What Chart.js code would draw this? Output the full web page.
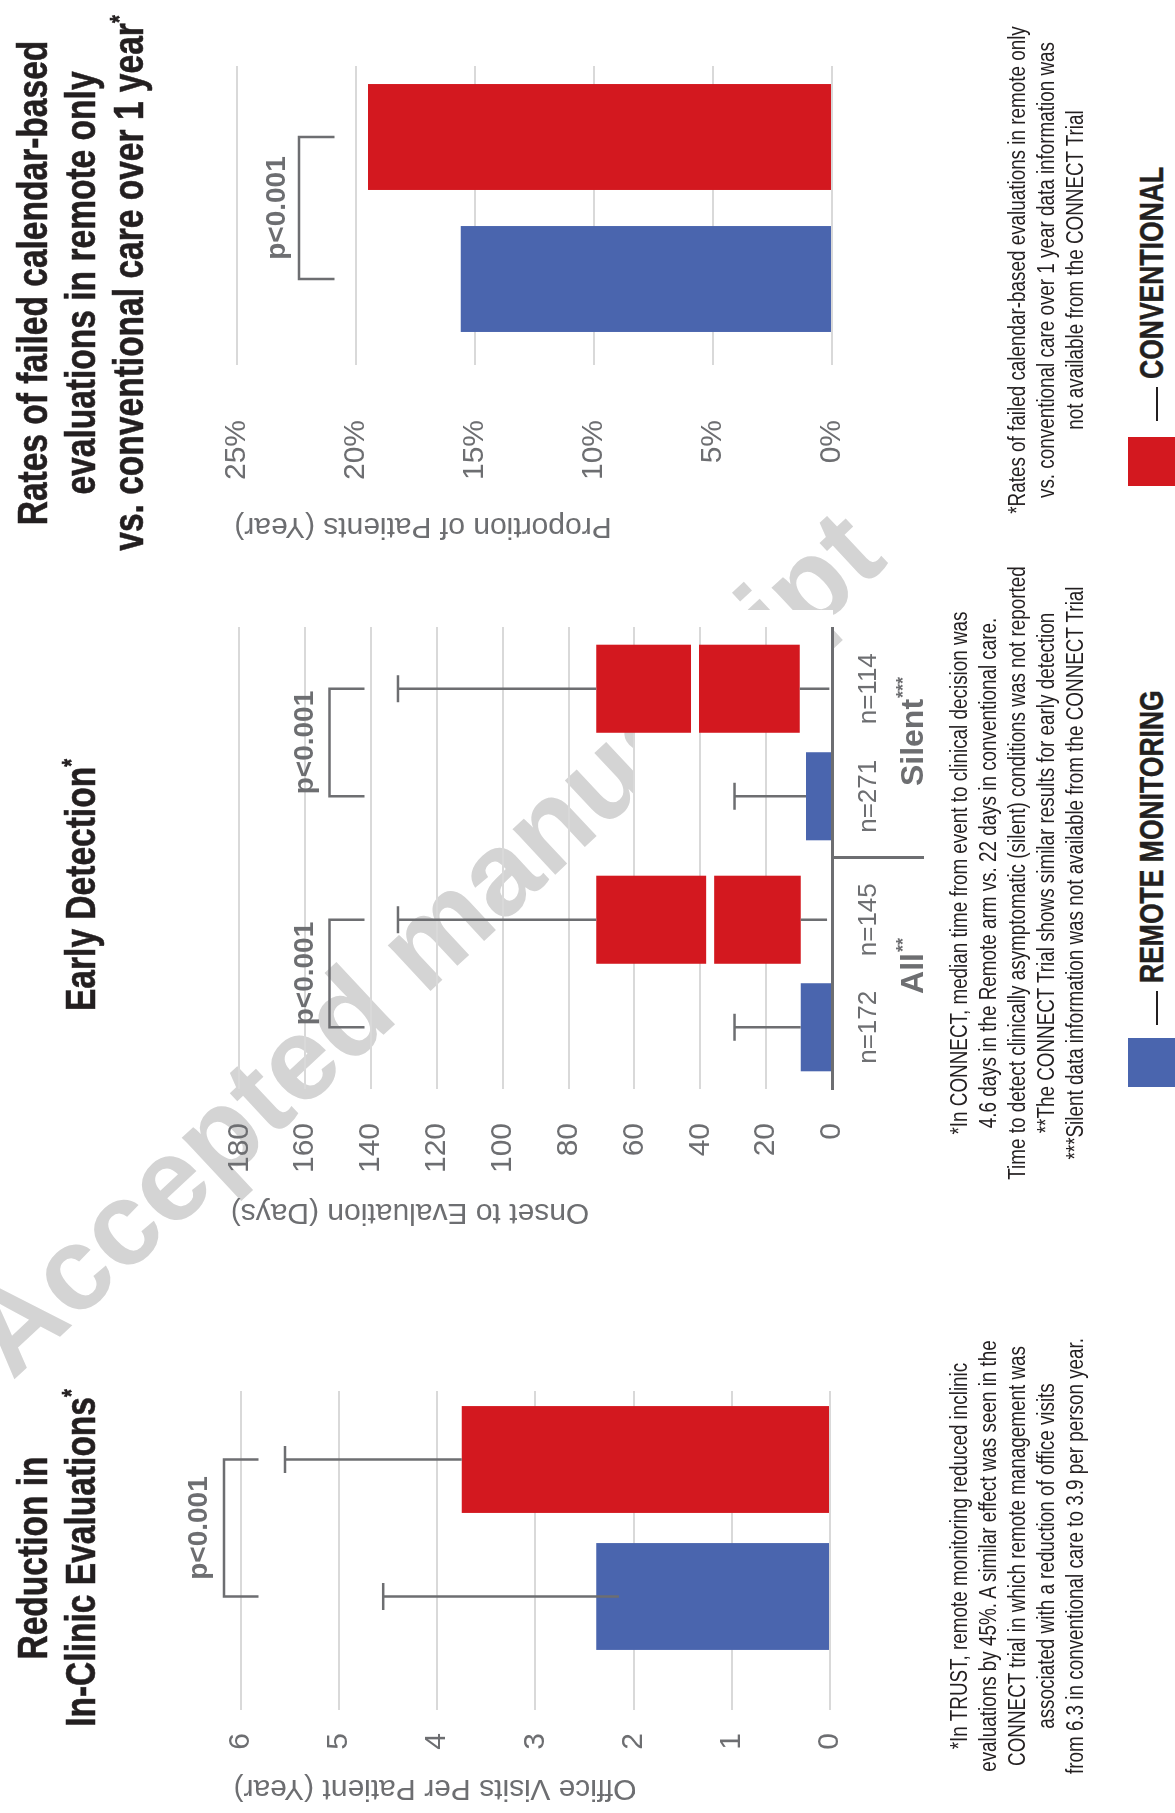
<!DOCTYPE html>
<html>
<head>
<meta charset="utf-8">
<script src="https://cdn.jsdelivr.net/npm/chart.js@4.4.1/dist/chart.umd.min.js"></script>
<style>
html,body{margin:0;padding:0;background:#fff;overflow:hidden;width:1175px;height:1813px;}
#root{position:absolute;left:0;top:0;width:1813px;height:1175px;transform-origin:0 0;transform:translate(0px,1813px) rotate(-90deg);}
canvas{position:absolute;}
.title{position:absolute;font-family:"Liberation Sans",Arial,sans-serif;font-weight:bold;font-size:43px;line-height:48px;color:#231f20;text-align:center;white-space:nowrap;width:1000px;transform:scaleX(0.78);transform-origin:500px 0;-webkit-text-stroke:0.6px #231f20;}
.note{position:absolute;font-family:"Liberation Sans",Arial,sans-serif;font-size:23px;line-height:29px;color:#231f20;text-align:center;white-space:nowrap;width:1000px;transform:scaleX(0.82);transform-origin:500px 0;}
sup{font-size:0.6em;vertical-align:baseline;position:relative;top:-0.6em;line-height:0;}
#wm{position:absolute;left:871px;top:423px;transform:translate(-50%,-50%) rotate(47deg);font-family:"Liberation Sans",Arial,sans-serif;font-weight:bold;font-size:118px;line-height:118px;color:#d4d4d4;white-space:nowrap;}
#occ{position:absolute;left:990px;top:633px;width:213px;height:200px;background:#fff;}
.sq{position:absolute;width:49px;height:49px;}
.leg{position:absolute;font-family:"Liberation Sans",Arial,sans-serif;font-weight:bold;font-size:34px;line-height:34px;color:#231f20;white-space:nowrap;transform:scaleX(0.78);transform-origin:0 0;-webkit-text-stroke:0.5px #231f20;}
.dash{position:absolute;height:2px;width:34px;background:#231f20;}
</style>
</head>
<body>
<div id="root">
  <div id="wm">Accepted manuscript</div>
  <div id="occ"></div>

  <canvas id="c1" width="422" height="880" style="left:0px;top:-5px;"></canvas>
  <canvas id="c2" width="626" height="1029" style="left:560px;top:-67px;"></canvas>
  <canvas id="c3" width="507" height="968" style="left:1240px;top:-61px;"></canvas>

  <div class="title" style="left:-245px;top:8.1px;">Reduction in<br>In-Clinic Evaluations<sup>*</sup></div>
  <div class="title" style="left:428px;top:56.1px;">Early Detection<sup>*</sup></div>
  <div class="title" style="left:1030px;top:8.1px;">Rates of failed calendar-based<br>evaluations in remote only<br>vs. conventional care over 1 year<sup>*</sup></div>

  <div class="note" style="left:-243px;top:944.5px;">*In TRUST, remote monitoring reduced inclinic<br>evaluations by 45%. A similar effect was seen in the<br>CONNECT trial in which remote management was<br>associated with a reduction of office visits<br>from 6.3 in conventional care to 3.9 per person year.</div>
  <div class="note" style="left:440px;top:944.5px;">*In CONNECT, median time from event to clinical decision was<br>4.6 days in the Remote arm vs. 22 days in conventional care.<br>Time to detect clinically asymptomatic (silent) conditions was not reported<br>**The CONNECT Trial shows similar results for early detection<br>***Silent data information was not available from the CONNECT Trial</div>
  <div class="note" style="left:1043px;top:1002.5px;">*Rates of failed calendar-based evaluations in remote only<br>vs. conventional care over 1 year data information was<br>not available from the CONNECT Trial</div>

  <div class="sq" style="left:726px;top:1128px;background:#4a65ae;"></div>
  <div class="dash" style="left:788px;top:1156px;"></div>
  <div class="leg" style="left:830px;top:1134.2px;">REMOTE MONITORING</div>
  <div class="sq" style="left:1327px;top:1128px;background:#d3181f;"></div>
  <div class="dash" style="left:1392px;top:1156px;"></div>
  <div class="leg" style="left:1434px;top:1134.2px;">CONVENTIONAL</div>
</div>

<script>
// ---------------- data ----------------
// Panel 1: Reduction in In-Clinic Evaluations
const p1Categories = ['Remote Monitoring', 'Conventional'];
const p1Visits = [2.38, 3.75];
const p1ErrLow = [2.15, 3.75];
const p1ErrHigh = [4.55, 5.55];
const p1Ticks = [0, 1, 2, 3, 4, 5, 6];
const p1PLabel = 'p<0.001';
const p1Bracket = [6.17, 5.82, 6.42]; // bracket line, arm end, label (value units)

// Panel 2: Early Detection (days)
const p2Groups = ['All', 'Silent'];
const p2GroupStars = ['**', '***'];
const p2RemoteDays = [9.5, 7.9];
const p2RemoteHigh = [29.6, 29.6];
const p2ConvQ1 = [9.5, 9.8];
const p2ConvQ3 = [71.6, 71.6];
const p2ConvMedian = [37.0, 41.6];
const p2ConvLow = [1.5, 0.8];
const p2ConvHigh = [131.8, 131.8];
const p2RemoteN = ['n=172', 'n=271'];
const p2ConvN = ['n=145', 'n=114'];
const p2Ticks = [0, 20, 40, 60, 80, 100, 120, 140, 160, 180];
const p2PLabels = ['p<0.001', 'p<0.001'];
const p2Bracket = [152.6, 142, 160];

// Panel 3: Rates of failed calendar-based evaluations (%)
const p3Categories = ['Remote Monitoring', 'Conventional'];
const p3Rates = [15.6, 19.5];
const p3Ticks = [0, 5, 10, 15, 20, 25];
const p3PLabel = 'p<0.001';
const p3Bracket = [22.4, 20.9, 23.3];

// ---------------- style ----------------
const FONT = '"Liberation Sans", Arial, sans-serif';
const GRAY = '#6d6e71';
const GRID = '#d9d9d9';
const BLUE = '#4a65ae';
const RED = '#d3181f';
const CAP = 13.5;
const LW = 2.5;

function seg(ctx, x1, y1, x2, y2) { ctx.beginPath(); ctx.moveTo(x1, y1); ctx.lineTo(x2, y2); ctx.stroke(); }
function bracket(ctx, xa, xb, yl, ya) {
  ctx.beginPath(); ctx.moveTo(xa, ya); ctx.lineTo(xa, yl); ctx.lineTo(xb, yl); ctx.lineTo(xb, ya); ctx.stroke();
}
function pText(ctx, s, x, y) {
  ctx.font = 'bold 28px ' + FONT; ctx.fillStyle = GRAY; ctx.textAlign = 'center'; ctx.textBaseline = 'middle';
  ctx.fillText(s, x, y);
}

function yAxis(o) {
  return {
    type: 'linear', min: 0, max: o.max,
    afterBuildTicks: s => { s.ticks = o.ticks.map(v => ({ value: v })); },
    afterFit: s => { s.width = o.width; },
    ticks: { font: { family: FONT, size: 30 }, color: GRAY, padding: o.tickPad, callback: o.fmt || (v => String(v)) },
    grid: {
      color: c => (o.hideZero && c.tick && c.tick.value === 0) ? 'rgba(0,0,0,0)' : GRID,
      lineWidth: 2, tickLength: o.tickLen, drawTicks: o.tickLen > 0
    },
    border: { display: false },
    title: { display: true, text: o.title, font: { family: FONT, size: 30 }, color: GRAY, padding: { top: o.titlePad, bottom: 0 } }
  };
}

const baseOpts = {
  responsive: false, animation: false, devicePixelRatio: 1, events: [],
  plugins: { legend: { display: false }, tooltip: { enabled: false } }
};

// ---------------- panel 1 ----------------
const p1Overlay = {
  id: 'p1Overlay',
  afterDatasetsDraw(chart) {
    const ctx = chart.ctx, y = chart.scales.y, bars = chart.getDatasetMeta(0).data;
    ctx.save();
    ctx.strokeStyle = GRAY; ctx.lineWidth = LW;
    bars.forEach((b, i) => {
      const y0 = y.getPixelForValue(p1ErrLow[i]), y1 = y.getPixelForValue(p1ErrHigh[i]);
      seg(ctx, b.x, y0, b.x, y1);
      seg(ctx, b.x - CAP, y1, b.x + CAP, y1);
    });
    bracket(ctx, bars[0].x, bars[1].x, y.getPixelForValue(p1Bracket[0]), y.getPixelForValue(p1Bracket[1]));
    pText(ctx, p1PLabel, (bars[0].x + bars[1].x) / 2, y.getPixelForValue(p1Bracket[2]));
    ctx.restore();
  }
};
new Chart(document.getElementById('c1'), {
  type: 'bar',
  data: { labels: p1Categories, datasets: [{ data: p1Visits, backgroundColor: [BLUE, RED], barPercentage: 0.78, categoryPercentage: 1 }] },
  options: Object.assign({}, baseOpts, {
    layout: { padding: { top: 45, bottom: 45, left: 0, right: 0 } },
    scales: {
      x: { display: false },
      y: yAxis({ max: 8.045, ticks: p1Ticks, title: 'Office Visits Per Patient (Year)', titlePad: 7, width: 148, tickLen: 45, tickPad: 23 })
    }
  }),
  plugins: [p1Overlay]
});

// ---------------- panel 2 ----------------
const p2Overlay = {
  id: 'p2Overlay',
  afterDatasetsDraw(chart) {
    const ctx = chart.ctx, y = chart.scales.y, xs = chart.scales.x;
    const blue = chart.getDatasetMeta(0).data, red = chart.getDatasetMeta(1).data;
    const area = chart.chartArea;
    ctx.save();
    ctx.fillStyle = '#ffffff';
    red.forEach((b, i) => {
      const ym = y.getPixelForValue(p2ConvMedian[i]);
      ctx.fillRect(b.x - b.width / 2 - 1, ym - 4, b.width + 2, 8);
    });
    ctx.strokeStyle = GRAY; ctx.lineWidth = LW;
    blue.forEach((b, i) => {
      const y0 = y.getPixelForValue(p2RemoteDays[i]), y1 = y.getPixelForValue(p2RemoteHigh[i]);
      seg(ctx, b.x, y0, b.x, y1);
      seg(ctx, b.x - CAP, y1, b.x + CAP, y1);
    });
    red.forEach((b, i) => {
      const yq3 = y.getPixelForValue(p2ConvQ3[i]), yh = y.getPixelForValue(p2ConvHigh[i]);
      seg(ctx, b.x, yq3, b.x, yh);
      seg(ctx, b.x - CAP, yh, b.x + CAP, yh);
      seg(ctx, b.x, y.getPixelForValue(p2ConvQ1[i]), b.x, y.getPixelForValue(p2ConvLow[i]));
    });
    p2Groups.forEach((g, i) => {
      bracket(ctx, blue[i].x, red[i].x, y.getPixelForValue(p2Bracket[0]), y.getPixelForValue(p2Bracket[1]));
      pText(ctx, p2PLabels[i], (blue[i].x + red[i].x) / 2, y.getPixelForValue(p2Bracket[2]));
    });
    ctx.fillStyle = GRAY; ctx.textAlign = 'center'; ctx.textBaseline = 'alphabetic';
    ctx.font = '26px ' + FONT;
    blue.forEach((b, i) => ctx.fillText(p2RemoteN[i], b.x, area.bottom + 44));
    red.forEach((b, i) => ctx.fillText(p2ConvN[i], b.x, area.bottom + 44));
    p2Groups.forEach((g, i) => {
      const gx = xs.getPixelForValue(i);
      ctx.font = 'bold 32px ' + FONT;
      const w = ctx.measureText(g).width;
      ctx.textAlign = 'left';
      ctx.fillText(g, gx - w / 2, area.bottom + 91);
      ctx.font = 'bold 18px ' + FONT;
      ctx.fillText(p2GroupStars[i], gx + w / 2 + 1, area.bottom + 77);
    });
    ctx.restore();
  }
};
new Chart(document.getElementById('c2'), {
  type: 'bar',
  data: {
    labels: p2Groups,
    datasets: [
      { label: 'Remote Monitoring', data: p2RemoteDays, backgroundColor: BLUE, barPercentage: 0.819, categoryPercentage: 0.931 },
      { label: 'Conventional', data: p2ConvQ1.map((q, i) => [q, p2ConvQ3[i]]), backgroundColor: RED, barPercentage: 0.819, categoryPercentage: 0.931 }
    ]
  },
  options: Object.assign({}, baseOpts, {
    layout: { padding: { top: 55, bottom: 0, left: 0, right: 0 } },
    scales: {
      x: {
        type: 'category',
        afterFit: s => { s.height = 130; },
        ticks: { display: false },
        grid: { display: true, drawOnChartArea: false, offset: true, tickLength: 92, lineWidth: 3,
                color: c => c.index === 1 ? GRAY : 'rgba(0,0,0,0)' },
        border: { display: true, color: GRAY, width: 3 }
      },
      y: yAxis({ max: 256.3, ticks: p2Ticks, title: 'Onset to Evaluation (Days)', titlePad: 23, width: 164, tickLen: 0, tickPad: 34, hideZero: true })
    }
  }),
  plugins: [p2Overlay]
});

// ---------------- panel 3 ----------------
const p3Overlay = {
  id: 'p3Overlay',
  afterDatasetsDraw(chart) {
    const ctx = chart.ctx, y = chart.scales.y, bars = chart.getDatasetMeta(0).data;
    ctx.save();
    ctx.strokeStyle = GRAY; ctx.lineWidth = LW;
    bracket(ctx, bars[0].x, bars[1].x, y.getPixelForValue(p3Bracket[0]), y.getPixelForValue(p3Bracket[1]));
    pText(ctx, p3PLabel, (bars[0].x + bars[1].x) / 2, y.getPixelForValue(p3Bracket[2]));
    ctx.restore();
  }
};
new Chart(document.getElementById('c3'), {
  type: 'bar',
  data: { labels: p3Categories, datasets: [{ data: p3Rates, backgroundColor: [BLUE, RED], barPercentage: 0.746, categoryPercentage: 1 }] },
  options: Object.assign({}, baseOpts, {
    layout: { padding: { top: 75, bottom: 75, left: 0, right: 0 } },
    scales: {
      x: { display: false },
      y: yAxis({ max: 34.37, ticks: p3Ticks, fmt: v => v + '%', title: 'Proportion of Patients (Year)', titlePad: 29, width: 223, tickLen: 15, tickPad: 55 })
    }
  }),
  plugins: [p3Overlay]
});
</script>
</body>
</html>
